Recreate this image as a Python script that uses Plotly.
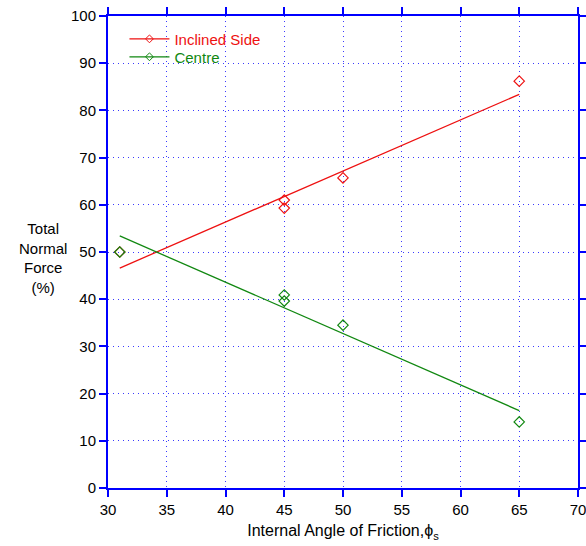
import plotly.graph_objects as go

# data
incl_x = [31, 45, 45, 50, 65]
incl_y = [50.0, 61.0, 59.3, 65.7, 86.2]
cent_x = [31, 45, 45, 50, 65]
cent_y = [50.0, 40.9, 39.6, 34.5, 14.0]
fit_x = [31, 65]
incl_fit = [46.6, 83.4]
cent_fit = [53.4, 16.4]
x_ticks = [30, 35, 40, 45, 50, 55, 60, 65, 70]
y_ticks = [0, 10, 20, 30, 40, 50, 60, 70, 80, 90, 100]

RED = "#ee1111"
GREEN = "#118811"
BLUE = "#0000ff"
GRID = "#3a3aff"
FONT = "Liberation Sans, Arial, sans-serif"

fig = go.Figure()
# fit lines
fig.add_trace(go.Scatter(x=fit_x, y=incl_fit, mode="lines", line=dict(color=RED, width=1.3), showlegend=False))
fig.add_trace(go.Scatter(x=fit_x, y=cent_fit, mode="lines", line=dict(color=GREEN, width=1.3), showlegend=False))
# points
fig.add_trace(go.Scatter(x=incl_x, y=incl_y, mode="markers", showlegend=False,
                         marker=dict(symbol="diamond-open", size=8, color=RED, line=dict(width=1.2))))
fig.add_trace(go.Scatter(x=cent_x, y=cent_y, mode="markers", showlegend=False,
                         marker=dict(symbol="diamond-open", size=8, color=GREEN, line=dict(width=1.2))))
# legend entries
fig.add_trace(go.Scatter(x=[None], y=[None], mode="lines+markers", legend="legend",
                         name="<span style='color:%s'>Inclined Side</span>" % RED,
                         line=dict(color=RED, width=1.3),
                         marker=dict(symbol="diamond-open", size=6, color=RED)))
fig.add_trace(go.Scatter(x=[None], y=[None], mode="lines+markers", legend="legend2",
                         name="<span style='color:%s'>Centre</span>" % GREEN,
                         line=dict(color=GREEN, width=1.3),
                         marker=dict(symbol="diamond-open", size=6, color=GREEN)))

axis_common = dict(
    showline=True, linecolor=BLUE, linewidth=2, mirror="ticks",
    ticks="outside", tickcolor=BLUE, ticklen=7, tickwidth=2,
    showgrid=True, gridcolor=GRID, griddash="1px,4px", gridwidth=1,
    zeroline=False, automargin=False, ticklabeloverflow="allow",
    tickfont=dict(family=FONT, size=15, color="black"),
)
fig.update_xaxes(range=[30, 70], tickvals=x_ticks, **axis_common,
                 title=dict(text="Internal Angle of Friction,\u03d5<sub>s</sub>",
                            font=dict(family=FONT, size=16, color="black"), standoff=8))
fig.update_yaxes(range=[0, 100], tickvals=y_ticks, **axis_common)

fig.add_annotation(text="Total<br>Normal<br>Force<br>(%)", xref="paper", yref="paper",
                   x=-0.138, y=0.487, xanchor="center", yanchor="middle",
                   showarrow=False, align="center",
                   font=dict(family=FONT, size=15, color="black"))

leg_common = dict(xanchor="left", yanchor="top", bgcolor="rgba(0,0,0,0)",
                  font=dict(family=FONT, size=15), itemwidth=40)
fig.update_layout(
    width=586, height=546,
    margin=dict(l=108, r=8, t=16, b=58),
    plot_bgcolor="white", paper_bgcolor="white",
    legend=dict(x=0.035, y=0.986, **leg_common),
    legend2=dict(x=0.035, y=0.948, **leg_common),
    font=dict(family=FONT),
)

fig.write_html("out.html")
